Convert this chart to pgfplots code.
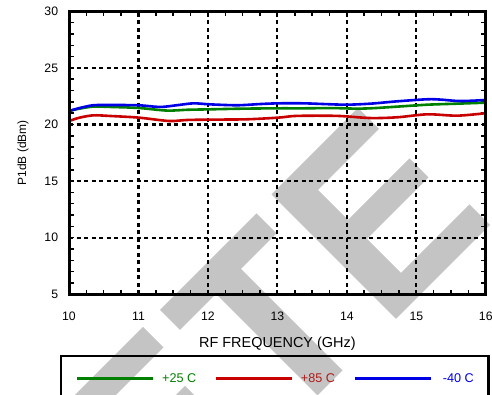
\documentclass[border=0pt]{standalone}
\usepackage{pgfplots}
\pgfplotsset{compat=1.18}
\usepackage{fontspec}
\setmainfont{Liberation Sans}

\definecolor{c25}{RGB}{0,128,0}
\definecolor{c85}{RGB}{200,0,0}
\definecolor{cm40}{RGB}{0,0,230}
\definecolor{t85}{RGB}{175,25,25}
\definecolor{wm}{RGB}{196,196,196}

\begin{document}
\begin{tikzpicture}
\useasboundingbox (0,0) rectangle (492bp,395bp);
\clip (0,0) rectangle (492bp,395bp);
% background watermark letters (image-style coordinates, y downwards)
\begin{scope}[yshift=395bp,x=1bp,y=-1bp]
  \fill[wm] (271.5,194.5) -- (358,108) -- (379,129) -- (318,190) -- (348,220)
            -- (409.5,158.5) -- (428.5,177.5) -- (367,239) -- (401,273)
            -- (469.5,204.5) -- (490,225) -- (396,319) -- cycle;
  \fill[wm] (160,310) -- (256.5,213.5) -- (276.5,233.5) -- (241,269)
            -- (342.5,370.5) -- (317.5,395.5) -- (216,294) -- (180,330) -- cycle;
  \fill[wm] (143,327) -- (163.5,347.5) -- (91,420) -- (50,420) -- cycle;
  \fill[wm] (185,386) -- (204,405) -- (166,405) -- cycle;
\end{scope}

\begin{axis}[
  at={(69bp,100.7bp)}, anchor=south west,
  scale only axis, width=416.8bp, height=283bp,
  xmin=10, xmax=16, ymin=5, ymax=30,
  clip=false,
  xtick={10,11,...,16}, ytick={5,10,...,30},
  minor x tick num=3, minor y tick num=4,
  tick align=inside,
  major tick length=4.5bp, minor tick length=4.5bp,
  every tick/.style={black, line width=1.5bp},
  grid=major,
  major grid style={black, line width=2.1bp, dash pattern=on 4bp off 3.5bp},
  /pgf/number format/assume math mode=true,
  tick label style={font=\fontsize{12.3}{14}\selectfont, inner sep=0pt},
  xticklabel style={anchor=base, yshift=-26.4bp},
  yticklabel style={anchor=east, xshift=-10.7bp},
  xlabel={RF FREQUENCY (GHz)},
  ylabel={P1dB (dBm)},
  xlabel style={at={(axis description cs:0.5,-0.1887)}, anchor=base,
                font=\fontsize{14.5}{16}\selectfont},
  ylabel style={at={(axis description cs:-0.1104,0.5)}, anchor=center,
                font=\fontsize{12}{14}\selectfont},
  legend columns=3,
  legend image code/.code={\path (0bp,0bp); \draw[line width=3bp] (4.5bp,0bp) -- (80.5bp,0bp);},
  legend style={at={(axis description cs:-0.0185,-0.219)}, anchor=north west,
                draw=none, fill=none,
                inner xsep=9.8bp, inner ysep=17.4bp,
                column sep=0pt,
                nodes={inner sep=0pt, text depth=0pt},
                font=\fontsize{12.7}{14}\selectfont},
]
% +25 C
\addplot[c25, line width=2.6bp, smooth, tension=0.5] coordinates {
  (10.0,21.19) (10.15,21.40) (10.35,21.58) (10.6,21.55) (11.0,21.46)
  (11.41,21.23) (11.7,21.30) (12.03,21.34) (12.5,21.40) (13.02,21.43)
  (13.38,21.43) (13.8,21.45) (14.15,21.40) (14.4,21.45) (14.73,21.58)
  (15.16,21.75) (15.59,21.84) (16.0,21.93)
};
\addlegendentry{\makebox[55.5bp][l]{\makebox[41.7bp][r]{\textcolor{c25}{+25 C}}}}
% +85 C
\addplot[c85, line width=2.6bp, smooth, tension=0.5] coordinates {
  (10.0,20.31) (10.15,20.60) (10.35,20.81) (10.6,20.75) (11.0,20.61)
  (11.44,20.31) (11.7,20.40) (12.03,20.43) (12.56,20.46) (13.02,20.61)
  (13.28,20.76) (13.86,20.76) (14.34,20.57) (14.73,20.64) (15.16,20.90)
  (15.59,20.78) (16.0,21.00)
};
\addlegendentry{\makebox[55.5bp][l]{\makebox[41.7bp][r]{\textcolor{t85}{+85 C}}}}
% -40 C
\addplot[cm40, line width=2.6bp, smooth, tension=0.5] coordinates {
  (10.0,21.19) (10.15,21.45) (10.35,21.70) (10.6,21.72) (11.0,21.70)
  (11.31,21.55) (11.55,21.70) (11.79,21.87) (12.03,21.78) (12.42,21.70)
  (12.76,21.81) (13.02,21.87) (13.38,21.87) (13.7,21.80) (14.0,21.75)
  (14.34,21.84) (14.73,22.05) (15.16,22.23) (15.35,22.20) (15.59,22.08)
  (15.8,22.10) (16.0,22.17)
};
\addlegendentry{\makebox[41.7bp][r]{\textcolor{cm40}{-40 C}}}
\end{axis}
% heavy frame round the plot area and the legend box
\draw[black, line width=3bp] (69bp,100.7bp) rectangle (485.8bp,383.7bp);
\draw[black, line width=2.2bp] (61.3bp,-20bp) rectangle (488.5bp,38.7bp);
\end{tikzpicture}
\end{document}
